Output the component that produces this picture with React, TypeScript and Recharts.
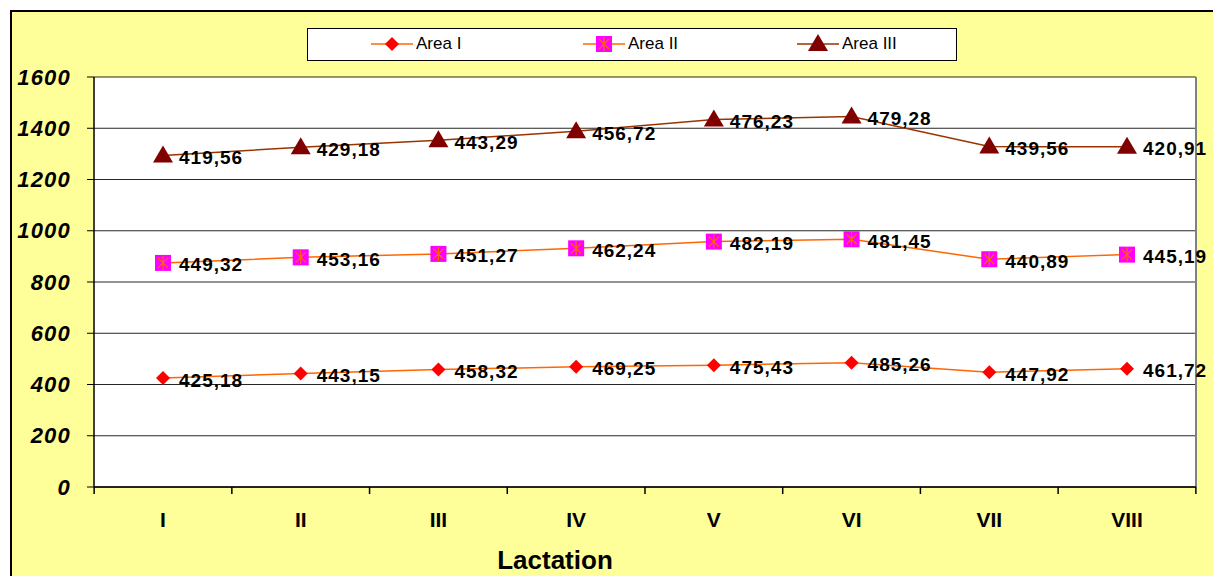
import React from 'react';
import { LineChart, Line, XAxis, YAxis, CartesianGrid, Legend, LabelList } from 'recharts';

const categories = ['I', 'II', 'III', 'IV', 'V', 'VI', 'VII', 'VIII'];
const areaI = [425.18, 443.15, 458.32, 469.25, 475.43, 485.26, 447.92, 461.72];
const areaII = [449.32, 453.16, 451.27, 462.24, 482.19, 481.45, 440.89, 445.19];
const areaIII = [419.56, 429.18, 443.29, 456.72, 476.23, 479.28, 439.56, 420.91];
const yTicks = [0, 200, 400, 600, 800, 1000, 1200, 1400, 1600];
const seriesNames = ['Area I', 'Area II', 'Area III'];
const xTitle = 'Lactation';

// stacked line chart: plotted values are cumulative, labels show own values
const data = categories.map((c, i) => ({
  cat: c,
  s1: areaI[i],
  s2: areaI[i] + areaII[i],
  s3: areaI[i] + areaII[i] + areaIII[i],
  v1: areaI[i],
  v2: areaII[i],
  v3: areaIII[i],
}));

const fmt = (v: number) => v.toFixed(2).replace('.', ',');

const Diamond = ({ cx, cy }: any) => (
  <path d={`M${cx},${cy - 7} L${cx + 7},${cy} L${cx},${cy + 7} L${cx - 7},${cy} Z`} fill="#FF0000" />
);
const StarSquare = ({ cx, cy }: any) => (
  <g>
    <rect x={cx - 8} y={cy - 8} width={16} height={16} fill="#FF00FF" />
    <path
      d={`M${cx - 5},${cy - 5} L${cx + 5},${cy + 5} M${cx + 5},${cy - 5} L${cx - 5},${cy + 5} M${cx},${cy - 7} L${cx},${cy + 7}`}
      stroke="#FF6600"
      strokeWidth={1.2}
    />
  </g>
);
const Triangle = ({ cx, cy }: any) => (
  <path d={`M${cx},${cy - 10} L${cx + 10},${cy + 7} L${cx - 10},${cy + 7} Z`} fill="#800000" />
);

const labelContent = (props: any) => {
  const { x, y, value } = props;
  return (
    <text
      x={x + 16}
      y={y + 2}
      dominantBaseline="central"
      fontFamily="Arial, 'Liberation Sans', sans-serif"
      fontWeight="bold"
      fontSize={19}
      letterSpacing={1}
      fill="#000"
    >
      {fmt(Number(value))}
    </text>
  );
};

const LegendBox = () => {
  const items = [
    { name: seriesNames[0], c: 84, line: '#FF6600', M: Diamond },
    { name: seriesNames[1], c: 296, line: '#FF6600', M: StarSquare },
    { name: seriesNames[2], c: 510, line: '#993300', M: Triangle },
  ];
  return (
    <div
      style={{
        width: 650,
        height: 33,
        boxSizing: 'border-box',
        border: '1.5px solid #000',
        background: '#fff',
        position: 'relative',
        fontFamily: "Arial, 'Liberation Sans', sans-serif",
        fontSize: 17,
        color: '#000',
      }}
    >
      {items.map((it) => (
        <React.Fragment key={it.name}>
          <svg width={46} height={30} style={{ position: 'absolute', left: it.c - 23, top: 0 }}>
            <line x1={2} y1={15} x2={44} y2={15} stroke={it.line} strokeWidth={1.5} />
            <it.M cx={23} cy={15} />
          </svg>
          <span style={{ position: 'absolute', left: it.c + 24, top: 5, lineHeight: '20px' }}>{it.name}</span>
        </React.Fragment>
      ))}
    </div>
  );
};

const XTick = ({ x, y, payload, index, width }: any) => {
  const half = (Number(width) || 0) / categories.length / 2;
  const last = index === categories.length - 1;
  return (
    <g>
      <line x1={x - half} y1={y} x2={x - half} y2={y + 7} stroke="#000" strokeWidth={1.5} />
      {last ? <line x1={x + half} y1={y} x2={x + half} y2={y + 7} stroke="#000" strokeWidth={1.5} /> : null}
      <text
        x={x}
        y={y + 40}
        textAnchor="middle"
        fontFamily="Arial, 'Liberation Sans', sans-serif"
        fontWeight="bold"
        fontSize={21}
        fill="#000"
      >
        {payload.value}
      </text>
    </g>
  );
};

const YTick = ({ x, y, payload }: any) => (
  <text
    x={x}
    y={y}
    textAnchor="end"
    dominantBaseline="central"
    fontFamily="Arial, 'Liberation Sans', sans-serif"
    fontWeight="bold"
    fontStyle="italic"
    fontSize={22}
    letterSpacing={1.2}
    fill="#000"
  >
    {payload.value}
  </text>
);

const XTitle = () => (
  <text
    x={555}
    y={569}
    textAnchor="middle"
    fontFamily="Arial, 'Liberation Sans', sans-serif"
    fontWeight="bold"
    fontSize={26}
    fill="#000"
  >
    {xTitle}
  </text>
);

export default function App() {
  return (
    <div style={{ position: 'absolute', left: 0, top: 0, width: 1213, height: 576, overflow: 'hidden' }}>
      <div
        style={{
          position: 'absolute',
          left: 10,
          top: 10,
          width: 1240,
          height: 600,
          background: '#FFFF99',
          border: '2px solid #000',
        }}
      />
      <div style={{ position: 'absolute', left: 0, top: 0 }}>
        <LineChart width={1213} height={576} data={data} margin={{ top: 77, right: 17, left: 10, bottom: 0 }}>
          <CartesianGrid vertical={false} stroke="#000" strokeOpacity={0.85} fill="#FFFFFF" fillOpacity={1} />
          <CartesianGrid
            horizontal={false}
            stroke="#808080"
            strokeWidth={2}
            verticalCoordinatesGenerator={({ offset }: any) => [offset.left + offset.width]}
          />
          <XAxis
            dataKey="cat"
            height={89}
            padding={{ left: 69, right: 69 }}
            axisLine={{ stroke: '#000', strokeWidth: 1.5 }}
            tickLine={false}
            tickSize={0}
            tickMargin={0}
            tick={<XTick />}
            interval={0}
            label={<XTitle />}
          />
          <YAxis
            width={84}
            domain={[0, 1600]}
            ticks={yTicks}
            axisLine={{ stroke: '#000', strokeWidth: 1.5 }}
            tickLine={{ stroke: '#000' }}
            tickSize={7}
            tickMargin={16}
            tick={<YTick />}
            interval={0}
          />
          <Legend
            layout="horizontal"
            verticalAlign="middle"
            align="center"
            wrapperStyle={{ position: 'absolute', left: 307, top: 28, width: 650, height: 33 }}
            content={() => <LegendBox />}
          />
          <Line
            type="linear"
            dataKey="s1"
            name={seriesNames[0]}
            stroke="#FF6600"
            strokeWidth={1.5}
            isAnimationActive={false}
            dot={(p: any) => <Diamond key={`d1-${p.index}`} cx={p.cx} cy={p.cy} />}
          >
            <LabelList dataKey="v1" content={labelContent} />
          </Line>
          <Line
            type="linear"
            dataKey="s2"
            name={seriesNames[1]}
            stroke="#FF6600"
            strokeWidth={1.5}
            isAnimationActive={false}
            dot={(p: any) => <StarSquare key={`d2-${p.index}`} cx={p.cx} cy={p.cy} />}
          >
            <LabelList dataKey="v2" content={labelContent} />
          </Line>
          <Line
            type="linear"
            dataKey="s3"
            name={seriesNames[2]}
            stroke="#993300"
            strokeWidth={1.5}
            isAnimationActive={false}
            dot={(p: any) => <Triangle key={`d3-${p.index}`} cx={p.cx} cy={p.cy} />}
          >
            <LabelList dataKey="v3" content={labelContent} />
          </Line>
        </LineChart>
      </div>
    </div>
  );
}
